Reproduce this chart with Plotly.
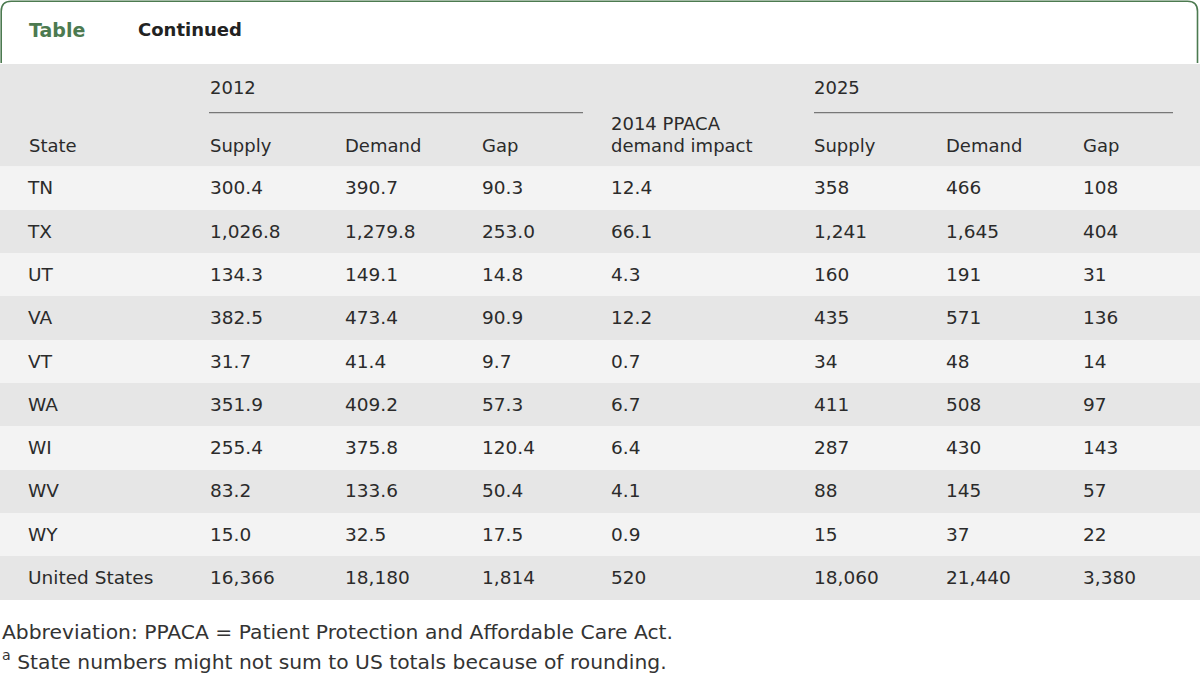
import plotly.graph_objects as go

# ---- data ----
states = ["TN", "TX", "UT", "VA", "VT", "WA", "WI", "WV", "WY", "United States"]
supply_2012 = ["300.4", "1,026.8", "134.3", "382.5", "31.7", "351.9", "255.4", "83.2", "15.0", "16,366"]
demand_2012 = ["390.7", "1,279.8", "149.1", "473.4", "41.4", "409.2", "375.8", "133.6", "32.5", "18,180"]
gap_2012 = ["90.3", "253.0", "14.8", "90.9", "9.7", "57.3", "120.4", "50.4", "17.5", "1,814"]
ppaca_2014 = ["12.4", "66.1", "4.3", "12.2", "0.7", "6.7", "6.4", "4.1", "0.9", "520"]
supply_2025 = ["358", "1,241", "160", "435", "34", "411", "287", "88", "15", "18,060"]
demand_2025 = ["466", "1,645", "191", "571", "48", "508", "430", "145", "37", "21,440"]
gap_2025 = ["108", "404", "31", "136", "14", "97", "143", "57", "22", "3,380"]

col_labels = ["State", "Supply", "Demand", "Gap", "2014 PPACA<br>demand impact", "Supply", "Demand", "Gap"]
group_labels = ["2012", "2025"]

W, H = 1200, 673
FONT = "DejaVu Sans"
TXT = "#2b2b2b"
LIGHT = "#f3f3f3"
DARK = "#e6e6e6"
GREEN = "#4c7a50"
CLEAR = "rgba(0,0,0,0)"

def px(x):
    return x / W

def py(y):
    return 1 - y / H

n = len(states)
row_colors = [LIGHT if i % 2 == 0 else DARK for i in range(n)]

columns = [[""] * n, states, supply_2012, demand_2012, gap_2012, ppaca_2014,
           supply_2025, demand_2025, gap_2025]
widths = [20, 182, 135, 137, 129, 203, 132, 137, 125]
ROW_H = 43.3
TOP = 166.5

hidden_header = dict(values=[""] * len(columns), height=0.01, fill_color=CLEAR,
                     line=dict(width=0, color=CLEAR),
                     font=dict(family=FONT, size=12, color=CLEAR))

fig = go.Figure()
# band layer: the alternating row fills
fig.add_trace(go.Table(
    domain=dict(x=[0, 1], y=[py(640), py(TOP)]),
    columnwidth=widths,
    header=hidden_header,
    cells=dict(
        values=[[" "] * n for _ in columns],
        height=ROW_H,
        fill_color=[row_colors] * len(columns),
        line=dict(width=0, color=CLEAR),
        font=dict(family=FONT, size=18.5, color=TXT),
    ),
))
# text layer: values, nudged down so they sit centred in each band
fig.add_trace(go.Table(
    domain=dict(x=[0, 1], y=[py(646), py(TOP + 6)]),
    columnwidth=widths,
    header=hidden_header,
    cells=dict(
        values=columns,
        height=ROW_H,
        align="left",
        fill_color=CLEAR,
        line=dict(width=0, color=CLEAR),
        font=dict(family=FONT, size=18.5, color=TXT),
    ),
))

shapes = []
# header band
shapes.append(dict(type="rect", xref="paper", yref="paper", x0=0, x1=1,
                   y0=py(TOP), y1=py(64), fillcolor=DARK, line=dict(width=0), layer="below"))
# group rules
shapes.append(dict(type="line", xref="paper", yref="paper", x0=px(209), x1=px(583),
                   y0=py(112.7), y1=py(112.7), line=dict(color="#777777", width=1.2)))
shapes.append(dict(type="line", xref="paper", yref="paper", x0=px(814), x1=px(1173),
                   y0=py(112.7), y1=py(112.7), line=dict(color="#777777", width=1.2)))
# title box with rounded top corners
r = 10
x0, x1, ytop, ybot = 1.2, 1197.5, 1.2, 63
path = (f"M {px(x0)} {py(ybot)} L {px(x0)} {py(ytop + r)} "
        f"Q {px(x0)} {py(ytop)} {px(x0 + r)} {py(ytop)} "
        f"L {px(x1 - r)} {py(ytop)} Q {px(x1)} {py(ytop)} {px(x1)} {py(ytop + r)} "
        f"L {px(x1)} {py(ybot)}")
shapes.append(dict(type="path", xref="paper", yref="paper", path=path,
                   line=dict(color=GREEN, width=1.6)))

ann = []
def add(text, x, y, size=18, color=TXT, weight="normal"):
    ann.append(dict(text=text, x=px(x), y=py(y), xref="paper", yref="paper",
                    xanchor="left", yanchor="middle", showarrow=False,
                    font=dict(family=FONT, size=size, color=color, weight=weight)))

add("Table", 27, 30, size=19, color=GREEN, weight="bold")
add("Continued", 136, 30, size=18, color="#222222", weight="bold")
add(group_labels[0], 208, 88)
add(group_labels[1], 812, 88)
header_x = [27, 208, 343, 480, 609, 812, 944, 1081]
for lab, x in zip(col_labels, header_x):
    if "<br>" in lab:
        a, b = lab.split("<br>")
        add(a, x, 123)
        add(b, x, 145)
    else:
        add(lab, x, 145)

add("Abbreviation: PPACA = Patient Protection and Affordable Care Act.", 0, 632, size=20.3, color="#333333")
add("<sup>a</sup> State numbers might not sum to US totals because of rounding.", 0, 660, size=20.3, color="#333333")

fig.update_layout(
    width=W, height=H,
    margin=dict(l=0, r=0, t=0, b=0),
    paper_bgcolor="white",
    plot_bgcolor="white",
    shapes=shapes,
    annotations=ann,
    showlegend=False,
)

fig.write_html("out.html", config={"displayModeBar": False},
               post_script="document.body.style.margin='0';")
